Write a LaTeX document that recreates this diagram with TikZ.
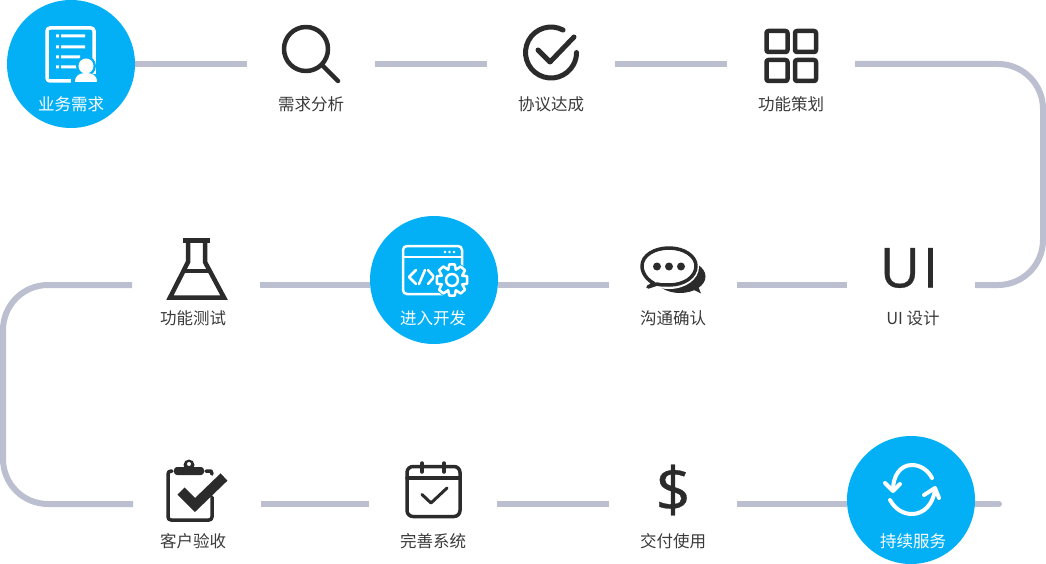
\documentclass[tikz,border=0pt]{standalone}
\usepackage{fontspec}
\setmainfont{Noto Sans CJK SC}
\newfontfamily\latinicon[FakeBold=0.5]{Open Sans}
\definecolor{rail}{HTML}{BBBFCF}
\definecolor{sky}{HTML}{03B0F6}
\definecolor{ink}{HTML}{2B2B2B}
\definecolor{labelgrey}{HTML}{3A3A3A}
\tikzset{
  stop/.style={minimum width=128pt,minimum height=12pt,inner sep=0pt,outer sep=0pt},
  hub/.style={circle,fill=sky,minimum size=128pt,inner sep=0pt,outer sep=0pt},
  rail/.style={draw=rail,line width=6pt},
  lbl/.style={text=labelgrey,font=\fontsize{16.5}{18}\selectfont,inner sep=0pt},
  hublbl/.style={text=white,font=\fontsize{16.5}{18}\selectfont,inner sep=0pt},
  ic/.style={draw=ink,line width=4.5pt,line cap=round,line join=round},
  wic/.style={draw=white,line width=3pt,line cap=round,line join=round},
}
\begin{document}
\begin{tikzpicture}[x=1pt,y=-1pt]
\useasboundingbox (0,0) rectangle (1046,564);
% connector stops
\node[stop] (s1) at (71,64) {};
\node[stop] (s2) at (311,64) {};
\node[stop] (s3) at (551,64) {};
\node[stop] (s4) at (791,64) {};
\node[stop] (s5) at (911,285) {};
\node[stop] (s6) at (673,285) {};
\node[stop] (s7) at (434,285) {};
\node[stop] (s8) at (196,285) {};
\node[stop] (s9) at (197,504) {};
\node[stop] (s10) at (433,504) {};
\node[stop] (s11) at (673,504) {};
\node[stop] (s12) at (911,504) {};
\coordinate (tail) at (999,504);
% connectors
\draw[rail] (s1.east) -- (s2.west);
\draw[rail] (s2.east) -- (s3.west);
\draw[rail] (s3.east) -- (s4.west);
\draw[rail,rounded corners=45pt] (s4.east) -- (1043,64) -- (1043,285) -- (s5.east);
\draw[rail] (s5.west) -- (s6.east);
\draw[rail] (s6.west) -- (s7.east);
\draw[rail] (s7.west) -- (s8.east);
\draw[rail,rounded corners=45pt] (s8.west) -- (3,285) -- (3,504) -- (s9.west);
\draw[rail] (s9.east) -- (s10.west);
\draw[rail] (s10.east) -- (s11.west);
\draw[rail] (s11.east) -- (s12.west);
\draw[rail,line cap=round] (s12.center) -- (tail);
% hubs
\node[hub] (h1) at (71,64) {};
\node[hub] (h2) at (434,280) {};
\node[hub] (h3) at (911,500) {};
% labels
\node[hublbl] (t1) at (71,104) {业务需求};
\node[lbl] (t2) at (311,104) {需求分析};
\node[lbl] (t3) at (551,104) {协议达成};
\node[lbl] (t4) at (791,104) {功能策划};
\node[lbl] (t5) at (913,318) {UI 设计};
\node[lbl] (t6) at (673,318) {沟通确认};
\node[hublbl] (t7) at (433,318) {进入开发};
\node[lbl] (t8) at (193,318) {功能测试};
\node[lbl] (t9) at (193,541) {客户验收};
\node[lbl] (t10) at (433,541) {完善系统};
\node[lbl] (t11) at (673,541) {交付使用};
\node[hublbl] (t12) at (913,541) {持续服务};
% icon 1: document + person
\draw[wic,line width=3.5pt,rounded corners=3pt] (47,28) rectangle (94,81);
\fill[white] (56,34.5) rectangle (59,37.5) (56,45.5) rectangle (59,48.5) (56,55.5) rectangle (59,58.5) (56,65.5) rectangle (59,68.5);
\fill[white] (61,34.5) rectangle (85,37.5) (61,45.5) rectangle (85,48.5) (61,55.5) rectangle (80,58.5) (61,65.5) rectangle (77,68.5);
\fill[sky] (86,66) circle (10);
\fill[sky] (71,83) -- (71,74) -- (100,74) -- (100,83) -- cycle;
\fill[white] (86,66) circle (7.5);
\fill[white] (75,82) .. controls (75,75) and (80,73) .. (86,73) .. controls (92,73) and (97,75) .. (97,82) -- cycle;
% icon 2: magnifier
\draw[ic] (306,49) circle (22);
\draw[ic] (322,65) -- (338,81);
% icon 3: circled check
\draw[ic,line width=5pt] (563,30) arc[start angle=-62,end angle=-360,radius=25.5];
\draw[ic,line width=5pt] (538,50) -- (550,62) -- (574,37);
% icon 4: grid
\draw[ic,rounded corners=2pt] (766.5,31) rectangle (787.5,52);
\draw[ic,rounded corners=2pt] (795,31) rectangle (816,52);
\draw[ic,rounded corners=2pt] (766.5,60) rectangle (787.5,81);
\draw[ic,rounded corners=2pt] (795,60) rectangle (816,81);
% icon 5: UI
\node[text=ink,font=\latinicon\fontsize{55}{55}\selectfont,inner sep=0pt] (uiglyph) at (909,268) {U\kern3pt I};
% icon 6: chat
\fill[ink] (680,276.5) ellipse (25.5 and 16.5);
\fill[ink] (690,288) -- (701,293.5) -- (696,281) -- cycle;
\fill[ink] (662,288) -- (678,293) -- (690,290) -- cycle;
\fill[white] (669,267) ellipse (30 and 22);
\draw[ic,line width=3.5pt,fill=white] (654,283.5) .. controls (642,277) and (642,267) .. (642,266) .. controls (642,255) and (655,248) .. (669,248) .. controls (684,248) and (696,256) .. (696,266) .. controls (696,277) and (684,285) .. (669,285) .. controls (664,285) and (660,285) .. (657,284) -- (648,287) -- cycle;
\fill[ink] (657,266.5) circle (4) (669,266.5) circle (4) (681,266.5) circle (4);
% icon 7: window + gear
\draw[white,line width=2.5pt,line cap=round,line join=round,rounded corners=4pt] (443,294) -- (403,294) -- (403,246) -- (462,246) -- (462,268);
\draw[white,line width=2.5pt] (403,257) -- (462,257);
\draw[wic,line width=2.5pt] (416,270) -- (409,277) -- (416,284);
\draw[wic,line width=2.5pt] (419,284) -- (425,270);
\draw[wic,line width=2.5pt] (428,270) -- (434,277) -- (428,284);
\fill[white] (445,252) circle (1.4) (449.5,252) circle (1.4) (454,252) circle (1.4);
\fill[sky] (452,280) circle (18);
\begin{scope}[shift={(452,280)},scale=1.08]
\draw[white,line width=2.5pt,line join=round]
  (14,-3.5) -- (9.5,-4) -- (12,-9) -- (8,-12.5) -- (3.5,-9.5) -- (2.5,-14.5) -- (-2.5,-14.5) -- (-3.5,-9.5) -- (-8,-12.5) -- (-12,-9) -- (-9.5,-4) -- (-14,-3.5) -- (-14,3.5) -- (-9.5,4) -- (-12,9) -- (-8,12.5) -- (-3.5,9.5) -- (-2.5,14.5) -- (2.5,14.5) -- (3.5,9.5) -- (8,12.5) -- (12,9) -- (9.5,4) -- (14,3.5) -- cycle;
\draw[white,line width=2.5pt] (0,0) circle (5.5);
\end{scope}
% icon 8: flask
\draw[ic,line cap=butt,line join=miter] (188,241) -- (188,262) -- (170,297.5) -- (224,297.5) -- (205,262) -- (205,241);
\draw[ic,line width=5pt,line cap=butt] (183,240.5) -- (210,240.5);
\draw[ic,line cap=butt] (184,271) -- (210,271);
% icon 9: clipboard
\draw[ic,line width=3.5pt,rounded corners=3pt] (172,471) -- (168,471) -- (168,520) -- (212,520) -- (212,497);
\draw[ic,line width=3.5pt] (206,471) -- (211,471) -- (212,474);
\fill[ink,rounded corners=3pt] (174,467) rectangle (204,475);
\fill[ink] (189,465) circle (5.5);
\fill[white] (189,464) circle (2);
\draw[ink,line width=10pt,line join=miter,line cap=butt] (181,491) -- (195,505) -- (224,477);
% icon 10: calendar
\draw[ic,line width=3.5pt,rounded corners=6pt] (407,466.5) rectangle (460,516.5);
\draw[ic,line width=3.5pt] (407,478) -- (460,478);
\draw[ic,line width=3.5pt] (422,463) -- (422,472);
\draw[ic,line width=3.5pt] (444,463) -- (444,472);
\draw[ic,line width=3pt] (422,494.5) -- (431,503) -- (447,488);
% icon 11: dollar
\node[text=ink,font=\latinicon\fontsize{62}{62}\selectfont,inner sep=0pt] (dollarglyph) at (673,490) {\$};
% icon 12: sync
\draw[wic,line width=4pt] (932,478) .. controls (928,470) and (920,465) .. (912,465) .. controls (900,465) and (893,476) .. (893,490);
\draw[wic,line width=4pt] (885,483) -- (893,491) -- (900,484);
\draw[wic,line width=4pt] (890,500) .. controls (895,509) and (903,514) .. (912,514) .. controls (924,514) and (933,504) .. (935,490);
\draw[wic,line width=4pt] (924,495) -- (935,488) -- (939,498);
\end{tikzpicture}
\end{document}
